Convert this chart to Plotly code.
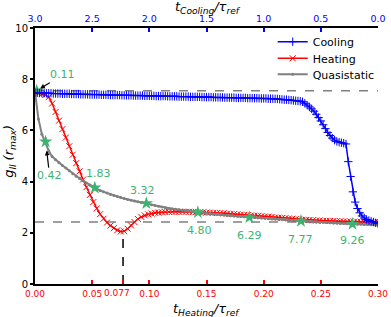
import plotly.graph_objects as go

# ---------------- data ----------------
t_heat = [round(0.003 * i, 3) for i in range(101)]  # t_Heating / tau_ref grid

heating = [
    7.50, 7.46, 7.42, 7.38, 7.30, 7.05, 6.72, 6.38, 6.05, 5.72,
    5.38, 5.05, 4.72, 4.40, 4.08, 3.78, 3.48, 3.20, 2.95, 2.73,
    2.55, 2.40, 2.28, 2.18, 2.10, 2.05, 2.06, 2.16, 2.29, 2.42,
    2.54, 2.62, 2.68, 2.72, 2.75, 2.78, 2.79, 2.80, 2.81, 2.82,
    2.82, 2.82, 2.82, 2.82, 2.82, 2.82, 2.81, 2.81, 2.80, 2.80,
    2.79, 2.79, 2.78, 2.77, 2.77, 2.76, 2.75, 2.74, 2.73, 2.72,
    2.71, 2.70, 2.69, 2.68, 2.67, 2.66, 2.65, 2.64, 2.63, 2.62,
    2.60, 2.59, 2.58, 2.57, 2.56, 2.55, 2.53, 2.52, 2.51, 2.50,
    2.50, 2.49, 2.48, 2.48, 2.47, 2.47, 2.46, 2.46, 2.45, 2.45,
    2.44, 2.44, 2.44, 2.43, 2.43, 2.43, 2.43, 2.42, 2.42, 2.42,
    2.42,
]

quasistatic = [
    7.50, 6.45, 5.85, 5.55, 5.20, 4.98, 4.85, 4.74, 4.63, 4.53,
    4.42, 4.31, 4.21, 4.12, 4.03, 3.95, 3.87, 3.79, 3.72, 3.65,
    3.60, 3.55, 3.50, 3.46, 3.42, 3.38, 3.34, 3.30, 3.27, 3.24,
    3.21, 3.18, 3.16, 3.13, 3.10, 3.07, 3.04, 3.01, 2.98, 2.96,
    2.94, 2.92, 2.90, 2.88, 2.86, 2.84, 2.82, 2.80, 2.79, 2.77,
    2.76, 2.75, 2.73, 2.72, 2.71, 2.70, 2.68, 2.67, 2.66, 2.65,
    2.64, 2.63, 2.62, 2.61, 2.60, 2.59, 2.58, 2.57, 2.56, 2.55,
    2.54, 2.53, 2.52, 2.51, 2.50, 2.49, 2.48, 2.47, 2.46, 2.45,
    2.44, 2.43, 2.42, 2.41, 2.41, 2.40, 2.39, 2.38, 2.37, 2.36,
    2.36, 2.35, 2.34, 2.34, 2.33, 2.33, 2.32, 2.32, 2.31, 2.31,
    2.30,
]

t_cool = [round(3.0 - 0.02 * i, 2) for i in range(151)]  # t_Cooling / tau_ref grid

cooling = [
    7.47, 7.47, 7.46, 7.46, 7.46, 7.45, 7.45, 7.45, 7.44, 7.44,
    7.44, 7.44, 7.43, 7.43, 7.43, 7.43, 7.42, 7.42, 7.42, 7.42,
    7.41, 7.41, 7.41, 7.41, 7.40, 7.40, 7.40, 7.40, 7.40, 7.39,
    7.39, 7.39, 7.39, 7.38, 7.38, 7.38, 7.38, 7.38, 7.37, 7.37,
    7.37, 7.37, 7.37, 7.36, 7.36, 7.36, 7.36, 7.36, 7.35, 7.35,
    7.35, 7.35, 7.35, 7.34, 7.34, 7.34, 7.34, 7.34, 7.33, 7.33,
    7.33, 7.33, 7.33, 7.32, 7.32, 7.32, 7.32, 7.32, 7.31, 7.31,
    7.31, 7.31, 7.31, 7.30, 7.30, 7.30, 7.30, 7.30, 7.29, 7.29,
    7.29, 7.29, 7.29, 7.28, 7.28, 7.28, 7.28, 7.28, 7.27, 7.27,
    7.27, 7.27, 7.27, 7.26, 7.26, 7.26, 7.26, 7.26, 7.25, 7.25,
    7.25, 7.25, 7.24, 7.24, 7.24, 7.23, 7.23, 7.22, 7.21, 7.20,
    7.20, 7.19, 7.18, 7.17, 7.16, 7.15, 7.14, 7.12, 7.06, 6.99,
    6.92, 6.84, 6.75, 6.63, 6.50, 6.37, 6.22, 6.07, 5.92, 5.80,
    5.70, 5.62, 5.57, 5.54, 5.52, 5.50, 5.47, 4.78, 4.20, 3.60,
    3.20, 2.95, 2.78, 2.66, 2.58, 2.52, 2.48, 2.45, 2.42, 2.39,
    2.36,
]

star_t = [0.0015, 0.0093, 0.0523, 0.0974, 0.1424, 0.1875, 0.2326, 0.2777]
star_g = [7.55, 5.56, 3.76, 3.15, 2.80, 2.60, 2.46, 2.34]
star_labels = ["0.11", "0.42", "1.83", "3.32", "4.80", "6.29", "7.77", "9.26"]

ref_levels = [7.55, 2.42]
min_t, min_g = 0.077, 2.04
min_label = "0.077"
heat_range = [0.0, 0.30]
cool_range = [3.0, 0.0]

x_ticks = [0.0, 0.05, 0.077, 0.10, 0.15, 0.20, 0.25, 0.30]
x_ticktext = ["0.00", "0.05", "", "0.10", "0.15", "0.20", "0.25", "0.30"]
top_ticks = [3.0, 2.5, 2.0, 1.5, 1.0, 0.5, 0.0]
top_ticktext = ["3.0", "2.5", "2.0", "1.5", "1.0", "0.5", "0.0"]
y_ticks = [0, 2, 4, 6, 8, 10]

# ---------------- styles ----------------
FONT = "DejaVu Sans"
BLUE, RED, GRAY, GREEN = "#0000ff", "#ff0000", "#808080", "#3cb371"

fig = go.Figure()

# dashed reference levels
for lv in ref_levels:
    fig.add_trace(go.Scatter(x=heat_range, y=[lv, lv], mode="lines",
                             line=dict(color=GRAY, width=1.5, dash="dash"),
                             showlegend=False, hoverinfo="skip"))
# vertical dashed line at the heating minimum
fig.add_trace(go.Scatter(x=[min_t, min_t], y=[0, min_g], mode="lines",
                         line=dict(color="black", width=1.5, dash="dash"),
                         showlegend=False, hoverinfo="skip"))

fig.add_trace(go.Scatter(x=t_cool, y=cooling, xaxis="x2", mode="lines+markers",
                         name="Cooling", legend="legend",
                         line=dict(color=BLUE, width=1.5),
                         marker=dict(symbol="cross-thin", size=6,
                                     line=dict(color=BLUE, width=1))))
fig.add_trace(go.Scatter(x=t_heat, y=heating, mode="lines+markers", name="Heating",
                         legend="legend2",
                         line=dict(color=RED, width=1.5),
                         marker=dict(symbol="x-thin", size=6,
                                     line=dict(color=RED, width=1))))
fig.add_trace(go.Scatter(x=t_heat, y=quasistatic, mode="lines+markers",
                         name="Quasistatic", legend="legend3",
                         line=dict(color=GRAY, width=2),
                         marker=dict(symbol="circle", size=3, color=GRAY)))
fig.add_trace(go.Scatter(x=star_t, y=star_g, mode="markers", showlegend=False,
                         marker=dict(symbol="star", size=10, color=GREEN,
                                     line=dict(width=0))))

# labels
label_shift = [None, None, (4, 14), (-4, 13), (2, -18), (0, -18), (0, -18), (0, -16)]
annotations = []
arrows = {0: (26, -16, 4), 1: (4, 34, 9)}
for i, lab in enumerate(star_labels):
    if i in arrows:
        ax, ay, so = arrows[i]
        annotations.append(dict(x=star_t[i], y=star_g[i], text=lab, showarrow=True,
                                ax=ax, ay=ay, arrowhead=2, arrowsize=0.8,
                                arrowwidth=1.2, arrowcolor="black", standoff=so,
                                font=dict(color=GREEN, size=11, family=FONT)))
    else:
        dx, dy = label_shift[i]
        annotations.append(dict(x=star_t[i], y=star_g[i], text=lab, showarrow=False,
                                xshift=dx, yshift=dy,
                                xanchor="center", yanchor="middle",
                                font=dict(color=GREEN, size=11, family=FONT)))

# tick label of the minimum (sits just left of its tick)
annotations.append(dict(x=min_t, xref="x", y=-0.036, yref="paper", text=min_label,
                        showarrow=False, xanchor="center", yanchor="middle",
                        xshift=-6, font=dict(color=RED, size=9, family=FONT)))

# axis titles
annotations += [
    dict(xref="paper", yref="paper", x=0.5, y=-0.098, showarrow=False,
         xanchor="center", yanchor="middle",
         text="<i>t<sub>Heating</sub>/τ<sub>ref</sub></i>",
         font=dict(size=13, family=FONT, color="black")),
    dict(xref="paper", yref="paper", x=0.505, y=1.079, showarrow=False,
         xanchor="center", yanchor="middle",
         text="<i>t<sub>Cooling</sub>/τ<sub>ref</sub></i>",
         font=dict(size=13, family=FONT, color="black")),
    dict(xref="paper", yref="paper", x=-0.073, y=0.52, showarrow=False,
         xanchor="center", yanchor="middle", textangle=-90,
         text="<i>g<sub>ll</sub> (r<sub>max</sub>)</i>",
         font=dict(size=13, family=FONT, color="black")),
]

leg_common = dict(x=0.691, xanchor="left", yanchor="middle",
                  bgcolor="rgba(0,0,0,0)", font=dict(size=11, family=FONT),
                  itemwidth=30, borderwidth=0)

fig.update_layout(
    width=391, height=317,
    margin=dict(l=35, r=12, t=28, b=33),
    paper_bgcolor="white", plot_bgcolor="white",
    font=dict(family=FONT, size=10, color="black"),
    showlegend=True,
    legend=dict(y=0.9465, **leg_common),
    legend2=dict(y=0.8816, **leg_common),
    legend3=dict(y=0.8191, **leg_common),
    annotations=annotations,
    xaxis=dict(range=heat_range, tickvals=x_ticks, ticktext=x_ticktext,
               tickangle=0, automargin=False,
               tickfont=dict(color=RED, size=9), ticks="inside", ticklen=4,
               tickcolor=RED, tickwidth=1.5,
               showline=True, linecolor="black", linewidth=2,
               showgrid=False, zeroline=False),
    xaxis2=dict(range=cool_range, overlaying="x", side="top", anchor="y",
                tickvals=top_ticks, ticktext=top_ticktext,
                tickangle=0, automargin=False,
                tickfont=dict(color=BLUE, size=9.5), ticks="inside", ticklen=4,
                tickcolor=BLUE, tickwidth=1.5,
                showline=True, linecolor="black", linewidth=2,
                showgrid=False, zeroline=False),
    yaxis=dict(range=[0, 10], tickvals=y_ticks, ticks="outside", ticklen=3,
               automargin=False,
               tickcolor="black", tickwidth=1.5,
               tickfont=dict(size=10, color="black"),
               showline=True, linecolor="black", linewidth=2,
               showgrid=False, zeroline=False),
    yaxis2=dict(range=[0, 10], overlaying="y", side="right", anchor="x",
                automargin=False,
                tickvals=y_ticks, ticks="inside", ticklen=4, tickcolor="black",
                tickwidth=1.5, showticklabels=False,
                showline=True, linecolor="black", linewidth=2,
                showgrid=False, zeroline=False),
)

fig.write_html("out.html",
               config={"displayModeBar": False},
               post_script="document.body.style.margin='0px';"
                           "document.body.style.overflow='hidden';")
